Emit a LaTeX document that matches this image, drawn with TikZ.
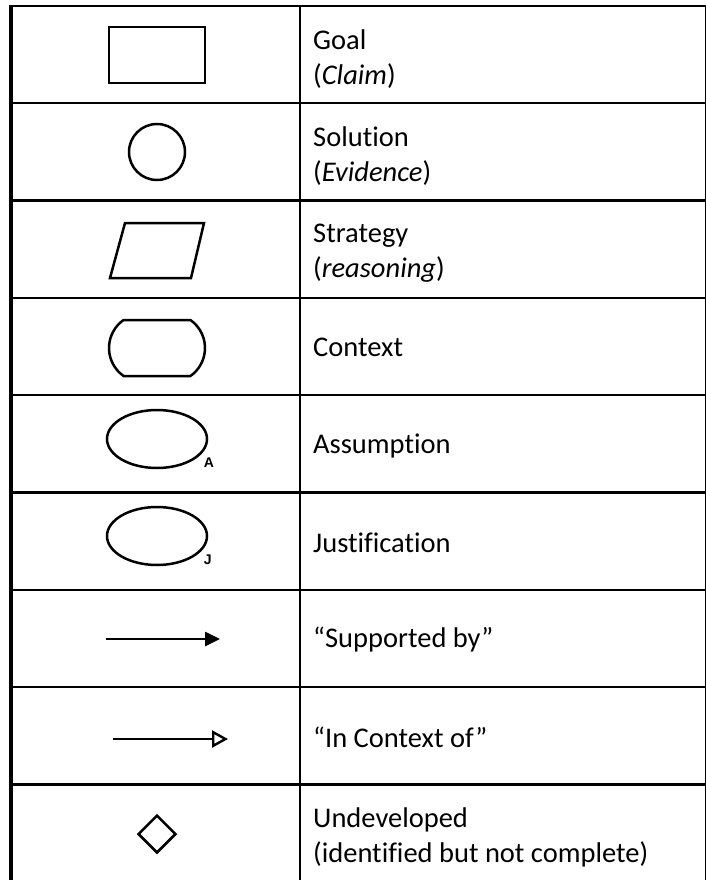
\documentclass[tikz,border=0pt]{standalone}
\usepackage{fontspec}
\setmainfont{Carlito}[Ligatures=NoCommon]
\setsansfont{Liberation Sans}
\usetikzlibrary{arrows.meta, positioning, shapes.geometric, shapes.misc}

\begin{document}
\begin{tikzpicture}[
    x=1pt, y=-1pt,
    sym/.style={draw, line width=2.5pt, inner sep=0pt},
    desc/.style={anchor=west, align=left, inner sep=0pt, font=\fontsize{28.5}{35}\selectfont},
    tag/.style={anchor=north west, inner sep=0pt, font=\sffamily\bfseries\fontsize{14}{14}\selectfont},
    grid/.style={line width=2.4pt},
    arrow/.style={line width=2.6pt}
]
    \useasboundingbox (0,0) rectangle (706,880);

    % Table
    \foreach \i in {0,...,9}
        \draw[grid] (11,6+97.3*\i) -- (706,6+97.3*\i);
    \draw[line width=3.2pt] (11,5) -- (11,882);
    \draw[grid] (300,6) -- (300,882);
    \draw[grid] (706,6) -- (706,882);

    % Symbols
    \node[sym, rectangle, minimum width=96pt, minimum height=56pt] (goal) at (157,55) {};
    \node[sym, circle, minimum size=56pt] (sol) at (157,152) {};
    \coordinate (strat) at (157,250);
    \draw[sym] ([shift={(-47,28)}]strat) -- ([shift={(34,28)}]strat)
        -- ([shift={(47,-27)}]strat) -- ([shift={(-32,-27)}]strat) -- cycle;
    \node[sym, rounded rectangle, rounded rectangle arc length=110,
          minimum width=96pt, minimum height=56pt] (ctx) at (157,348) {};
    \node[sym, ellipse, minimum width=100pt, minimum height=58pt] (asm) at (157,439) {};
    \node[tag] (asmtag) at ([shift={(3,3)}]asm.-20) {A};
    \node[sym, ellipse, minimum width=100pt, minimum height=58pt] (just) at (157,536) {};
    \node[tag] (justtag) at ([shift={(3,3)}]just.-20) {J};
    \coordinate (sup1) at (106,639);
    \coordinate (sup2) at (220,639);
    \coordinate (ctx1) at (113,739);
    \coordinate (ctx2) at (228,739);
    \node[sym, diamond, minimum width=38pt, minimum height=38pt] (undev) at (157,834) {};

    % Arrows
    \draw[arrow, -{Triangle[length=15pt, width=14pt]}] (sup1) -- (sup2);
    \draw[arrow, -{Triangle[open, length=16pt, width=17pt, line width=2.4pt]}] (ctx1) -- (ctx2);

    % Descriptions
    \node[desc] (goaltxt) at (313,59) {Goal\\(\textit{Claim})};
    \node[desc] (soltxt) at (313,156) {Solution\\(\textit{Evidence})};
    \node[desc] (strattxt) at (313,253) {Strategy\\(\textit{reasoning})};
    \node[desc] (ctxtxt) at (313,347) {Context};
    \node[desc] (asmtxt) at (313,446) {Assumption};
    \node[desc] (justtxt) at (313,543) {Justification};
    \node[desc] (suptxt) at (313,640) {“Supported by”};
    \node[desc] (inctxtxt) at (313,737) {“In Context of”};
    \node[desc] (undevtxt) at (313,837) {Undeveloped\\(identified but not complete)};
\end{tikzpicture}
\end{document}
